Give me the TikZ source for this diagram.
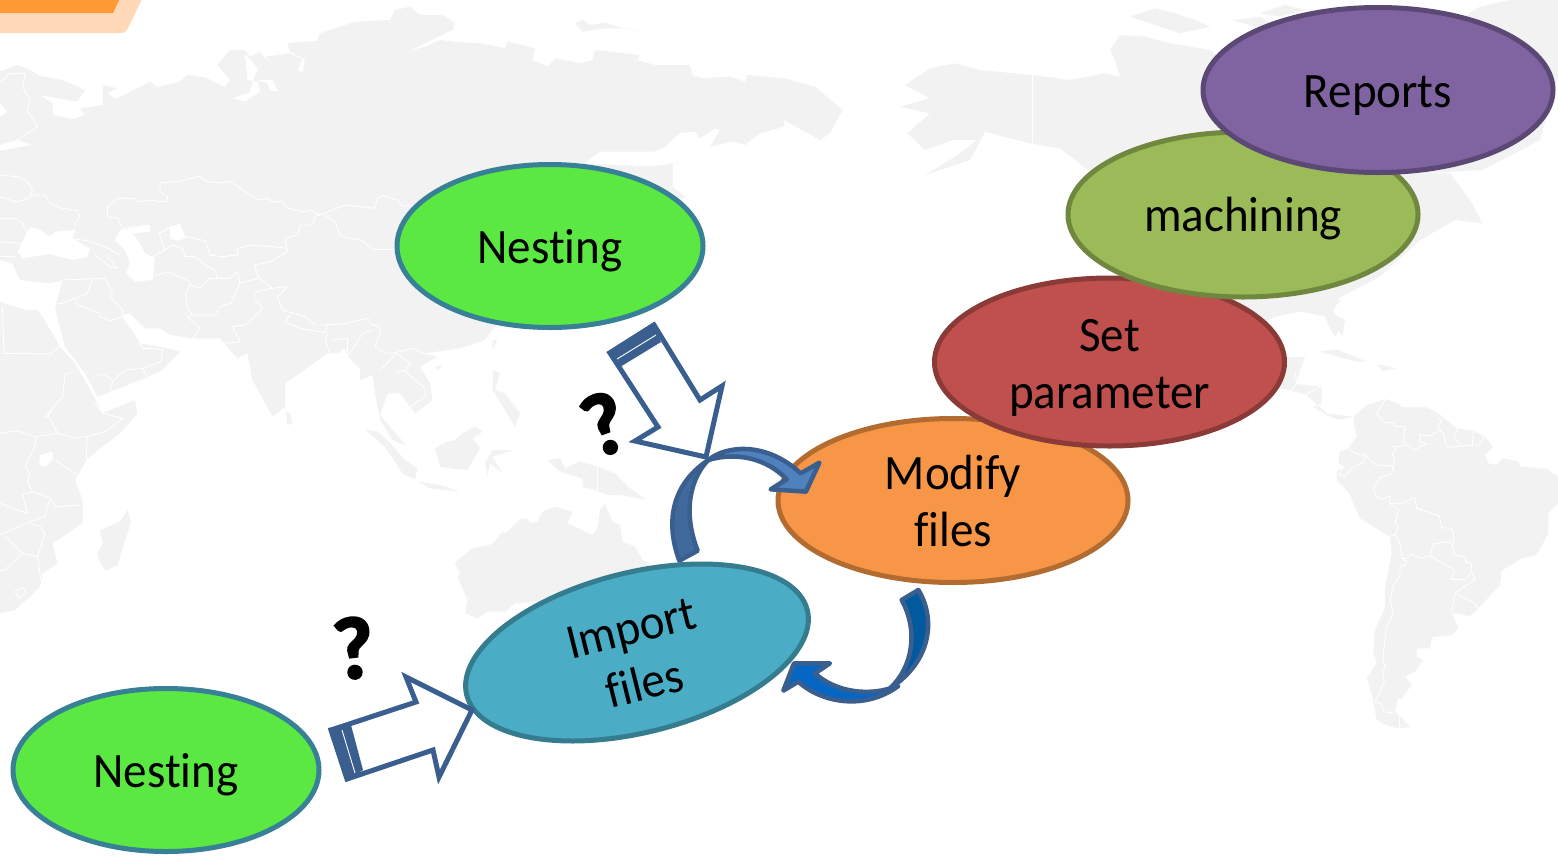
\documentclass[tikz,border=0pt]{standalone}
\usepackage{fontspec}
\setmainfont{Carlito}[Ligatures={NoCommon},FakeStretch=0.95]
\newfontfamily\qfont{Carlito}[BoldFeatures={FakeBold=2.5}]
\usetikzlibrary{shapes.geometric}
\definecolor{mapc}{HTML}{F2F2F2}
\definecolor{arrowline}{HTML}{3A5F8F}
\tikzset{
  land/.style={fill=mapc,draw=none},
  border/.style={draw=white,line width=0.9pt,line join=round},
  sea/.style={fill=white,draw=none},
  stepnode/.style={ellipse,draw=#1!72!black,fill=#1,line width=5pt,inner sep=0pt,outer sep=0pt,align=center,text=black,
     font=\fontsize{49.5}{57}\selectfont},
  oneline/.style={text height=43pt,text depth=9pt},
  blockarrow/.style={draw=arrowline,fill=white,line width=5pt,line join=miter,miter limit=6},
  bandfill/.style={fill=arrowline,draw=none},
  bandline/.style={draw=white,line width=0.9pt},
  ribbon/.style={draw=arrowline,line width=4.5pt,line join=round},
  qmark/.style={font=\qfont\fontsize{88}{88}\selectfont\bfseries,text=black,inner sep=0pt},
  zfive/.style={x=0.5pt,y=-0.33333pt},
  zthree/.style={x=0.33333pt,y=-0.33333pt}
}
\definecolor{cgreen}{HTML}{5BE843}
\definecolor{cblue}{HTML}{4BACC6}
\definecolor{corange}{HTML}{F79646}
\definecolor{cred}{HTML}{C0504D}
\definecolor{colive}{HTML}{9BBB59}
\definecolor{cpurple}{HTML}{8064A2}
\begin{document}
\begin{tikzpicture}[x=1pt,y=1pt]
\useasboundingbox (0,0) rectangle (1558,-855);
\fill[white] (0,0) rectangle (1558,-855);
% ---------- map: Eurasia, Africa etc.
\begin{scope}[zfive]
\fill[land] plot coordinates {(0,215) (35,195) (60,210) (80,228) (125,240) (170,270) (155,305) (80,285) (105,310) (105,345) (145,358) (170,345) (160,325) (205,315) (205,255) (235,265) (215,280) (232,296) (300,245) (315,262) (360,245) (375,225) (410,232) (450,262) (460,240) (435,195) (460,150) (490,150) (500,170) (520,155) (530,175) (555,195) (530,170) (580,160) (605,178) (595,210) (605,218) (610,178) (580,155) (575,130) (635,122) (640,100) (710,65) (780,60) (790,30) (820,20) (840,45) (885,45) (910,68) (905,90) (815,155) (850,140) (880,120) (910,125) (960,130) (1010,145) (1015,125) (1070,145) (1065,180) (1095,200) (1110,175) (1160,190) (1185,180) (1190,150) (1280,165) (1275,180) (1310,195) (1380,195) (1385,225) (1405,235) (1460,230) (1490,245) (1495,225) (1568,235) (1630,260) (1685,330) (1660,400) (1640,420) (1568,360) (1568,380) (1520,400) (1490,435) (1465,425) (1420,440) (1370,490) (1345,490) (1345,560) (1370,590) (1200,800) (990,980) (970,1020) (920,1045) (850,1060) (875,1070) (840,1100) (860,1150) (865,1200) (830,1240) (820,1220) (800,1180) (775,1180) (760,1245) (785,1290) (812,1335) (785,1320) (760,1260) (750,1180) (745,1125) (720,1140) (720,1105) (695,1070) (690,1045) (675,1060) (655,1060) (570,1150) (570,1220) (545,1250) (505,1140) (495,1060) (475,1075) (440,1015) (385,1015) (340,1005) (320,985) (290,985) (260,940) (245,945) (280,1030) (320,1040) (360,1055) (325,1110) (290,1135) (220,1175) (195,1190) (170,1120) (130,1040) (110,925) (125,840) (100,850) (40,840) (25,790) (0,780)} -- cycle;
% Okhotsk and Kamchatka bay
\fill[sea] plot coordinates {(1430,385) (1400,415) (1390,395) (1360,400) (1330,440) (1310,455) (1200,455) (1170,490) (1300,500) (1345,490) (1370,490) (1420,440) (1440,390)} -- cycle;
% Gulf of Ob etc.
\fill[sea] plot coordinates {(490,165) (495,240) (515,245) (520,275) (490,305) (465,295) (498,278) (505,250) (515,205) (502,180)} -- cycle;
\fill[sea] plot coordinates {(515,240) (545,240) (555,275) (540,270) (535,250)} -- cycle;
% Gulf of Finland, Bothnia
\fill[sea] plot coordinates {(0,435) (35,420) (62,435) (0,452)} -- cycle;
\fill[sea] plot coordinates {(0,310) (15,335) (0,350)} -- cycle;
% Black Sea, Caspian, Aral
\fill[sea] plot coordinates {(35,755) (60,680) (80,690) (100,710) (110,695) (150,690) (145,715) (180,745) (175,770) (145,780) (100,762) (65,770) (45,775)} -- cycle;
\fill[sea] plot coordinates {(240,690) (300,675) (300,695) (265,700) (280,730) (290,760) (310,775) (305,840) (270,845) (252,820) (260,790) (250,750) (230,720)} -- cycle;
\fill[sea] plot coordinates {(340,680) (360,672) (370,710) (355,722) (340,710)} -- cycle;
% Africa
\fill[land] plot coordinates {(0,905) (50,930) (75,930) (85,950) (120,1040) (150,1090) (190,1195) (205,1240) (270,1200) (275,1240) (240,1300) (175,1375) (150,1440) (165,1500) (165,1570) (105,1630) (115,1690) (85,1720) (80,1760) (60,1790) (30,1830) (0,1840)} -- cycle;
\fill[sea] plot coordinates {(80,1365) (105,1355) (105,1380) (90,1400) (78,1395)} -- cycle;
% islands
\fill[land] plot coordinates {(255,1530) (262,1565) (235,1695) (212,1712) (200,1690) (195,1660) (205,1630) (200,1590) (240,1565)} -- cycle;
\fill[land] plot coordinates {(572,1235) (580,1240) (585,1270) (575,1275)} -- cycle;
\fill[land] plot coordinates {(985,1020) (995,1020) (985,1050)} -- cycle;
\fill[land] plot coordinates {(870,1100) (885,1095) (875,1110)} -- cycle;
\fill[land] plot coordinates {(985,1110) (1000,1120) (990,1170) (1010,1180) (1040,1240) (1030,1280) (1010,1230) (985,1170)} -- cycle;
\fill[land] plot coordinates {(1150,70) (1165,58) (1180,75) (1210,68) (1230,78) (1285,95) (1250,85) (1210,85) (1165,95)} -- cycle;
\fill[land] plot coordinates {(730,1288) (755,1295) (780,1330) (810,1380) (835,1405) (830,1438) (805,1420) (770,1340)} -- cycle;
\fill[land] plot coordinates {(870,1345) (895,1325) (910,1320) (925,1300) (950,1280) (965,1295) (945,1315) (960,1345) (935,1410) (900,1405) (880,1400)} -- cycle;
\fill[land] plot coordinates {(835,1445) (880,1455) (920,1475) (860,1465)} -- cycle;
\fill[land] plot coordinates {(985,1350) (1025,1350) (985,1370) (1005,1420) (980,1390) (975,1430) (970,1390)} -- cycle;
\fill[land] plot coordinates {(1095,1380) (1120,1375) (1130,1405) (1160,1385) (1195,1400) (1230,1420) (1260,1465) (1290,1498) (1240,1485) (1215,1485) (1190,1470) (1165,1460) (1165,1435) (1120,1415) (1105,1395)} -- cycle;
\fill[land] plot coordinates {(915,1680) (945,1645) (985,1632) (1005,1595) (1010,1600) (1025,1580) (1040,1558) (1055,1555) (1060,1570) (1075,1565) (1085,1535) (1110,1520) (1145,1535) (1135,1570) (1185,1605) (1195,1585) (1200,1530) (1210,1512) (1225,1565) (1240,1575) (1245,1625) (1270,1640) (1285,1680) (1300,1690) (1300,1780) (1030,1810) (1010,1835) (975,1835) (955,1855) (930,1840) (935,1800) (915,1730) (920,1720) (910,1690)} -- cycle;
% borders Eurasia
\draw[border] plot coordinates {(0,245) (20,220) (50,220) (45,260) (60,300) (55,335) (75,380) (35,420)};
\draw[border] plot coordinates {(0,525) (35,530) (55,545) (65,570) (60,590)};
\draw[border] plot coordinates {(0,590) (30,605) (50,600) (65,585) (90,585) (100,610) (125,625) (155,632) (160,655) (150,665) (150,700)};
\draw[border] plot coordinates {(0,655) (30,655) (45,670) (55,700)};
\draw[border] plot coordinates {(0,725) (40,730)};
\draw[border] plot coordinates {(0,770) (30,770)};
\draw[border] plot coordinates {(135,715) (175,722) (215,745) (240,765)};
\draw[border] plot coordinates {(190,765) (220,800) (235,805) (215,770)};
\draw[border] plot coordinates {(215,650) (215,620) (235,595) (270,595) (275,605) (300,600) (320,605) (335,605) (335,590) (320,575) (320,548) (355,545) (385,535) (400,528) (412,545) (440,548) (460,545) (515,600) (535,595) (545,605) (565,605) (575,625) (610,635) (620,630) (640,645)};
\draw[border] plot coordinates {(640,645) (630,650) (625,675) (600,675) (595,705) (570,715) (575,755) (540,785) (510,795) (515,830) (545,865)};
\draw[border] plot coordinates {(640,645) (690,615) (750,625) (755,595) (765,587) (795,600) (805,618) (830,615)};
\draw[border] plot coordinates {(650,645) (672,670) (680,708) (725,722) (745,748) (795,748)};
\draw[border] plot coordinates {(215,650) (235,655) (245,685) (295,675)};
\draw[border] plot coordinates {(318,700) (330,750) (345,735) (365,745) (370,770) (390,770) (410,795) (430,810) (435,835)};
\draw[border] plot coordinates {(318,700) (345,680)};
\draw[border] plot coordinates {(340,715) (360,720) (372,710) (410,722) (420,765) (445,770) (475,765) (475,745) (500,735) (545,740) (575,745)};
\draw[border] plot coordinates {(300,775) (330,750)};
\draw[border] plot coordinates {(305,830) (335,815) (380,845) (380,855) (400,865) (420,835) (460,835) (475,815) (480,850) (515,835)};
\draw[border] plot coordinates {(545,865) (510,875) (510,900) (525,920) (520,935) (490,975) (465,980) (480,1025) (450,1030)};
\draw[border] plot coordinates {(380,855) (372,880) (375,925) (385,945) (375,950) (400,985) (385,1015)};
\draw[border] plot coordinates {(385,945) (430,945) (440,920) (462,910) (470,880) (480,850)};
\draw[border] plot coordinates {(545,865) (575,860) (555,890) (565,930) (610,950) (630,975) (655,975) (690,970) (735,955) (745,975) (760,980) (760,1000) (750,1040) (770,1060) (790,1058) (825,1045) (855,1065)};
\draw[border] plot coordinates {(580,945) (570,965) (600,985) (650,998) (655,975)};
\draw[border] plot coordinates {(655,1000) (650,1020) (660,1060)};
\draw[border] plot coordinates {(665,1020) (695,1015) (695,1070) (725,1000) (745,990)};
\draw[border] plot coordinates {(790,1058) (820,1090) (810,1115) (850,1165) (850,1190) (820,1220)};
\draw[border] plot coordinates {(760,1110) (780,1080) (790,1060)};
\draw[border] plot coordinates {(790,1120) (810,1110)};
\draw[border] plot coordinates {(125,840) (210,835) (215,850) (225,880) (220,890) (245,930) (245,950)};
\draw[border] plot coordinates {(185,840) (175,880) (150,895) (125,910) (115,910)};
\draw[border] plot coordinates {(150,895) (155,915) (200,940) (200,950) (220,962) (245,950)};
\draw[border] plot coordinates {(245,950) (270,1000) (285,1045) (325,1048) (322,1085) (285,1105) (295,1135)};
\draw[border] plot coordinates {(285,1105) (250,1110) (225,1145) (220,1175)};
\draw[border] plot coordinates {(5,920) (8,1060) (100,1062) (120,1040)};
\draw[border] plot coordinates {(145,1115) (130,1125) (125,1190) (105,1225) (95,1250)};
\draw[border] plot coordinates {(190,1125) (210,1125) (225,1140)};
\draw[border] plot coordinates {(0,1300) (35,1292) (70,1310) (115,1300) (150,1315) (180,1308) (215,1292) (245,1255) (205,1240) (190,1210)};
\draw[border] plot coordinates {(115,1300) (100,1255) (90,1250) (105,1225)};
\draw[border] plot coordinates {(70,1310) (72,1330) (60,1370) (50,1400) (60,1420) (55,1445) (65,1475) (100,1493) (90,1550) (60,1565) (0,1605)};
\draw[border] plot coordinates {(105,1375) (155,1425)};
\draw[border] plot coordinates {(175,1308) (172,1370) (178,1385)};
\draw[border] plot coordinates {(100,1493) (110,1520) (160,1515)};
\draw[border] plot coordinates {(0,1510) (55,1540) (45,1485) (65,1475)};
\draw[border] plot coordinates {(10,1610) (45,1660) (75,1670) (90,1600) (80,1580) (60,1570)};
\draw[border] plot coordinates {(45,1660) (10,1710) (0,1712)};
\draw[border] plot coordinates {(75,1670) (82,1740)};
\draw[border] plot coordinates {(30,1775) (45,1762) (52,1780) (38,1795) (30,1775)};
\draw[border] plot coordinates {(1195,1400) (1195,1470)};
\end{scope}
% ---------- map: North America
\begin{scope}[zfive,shift={(1560,0)}]
\fill[land] plot coordinates {(700,50) (750,25) (790,40) (830,60) (860,80) (800,100) (760,80)} -- cycle;
\fill[land] plot coordinates {(905,60) (960,50) (1000,90) (950,80)} -- cycle;
\fill[land] plot coordinates {(960,40) (1010,15) (1050,30) (1000,50)} -- cycle;
\fill[land] plot coordinates {(1400,20) (1460,0) (1568,0) (1568,170) (1520,420) (1405,510) (1280,520) (1100,300)} -- cycle;
\fill[land] plot coordinates {(250,255) (300,205) (350,190) (400,210) (505,225) (580,240) (650,220) (680,230) (670,180) (660,150) (680,105) (730,110) (780,130) (860,150) (1000,300) (1280,520) (1340,520) (1380,600) (1405,670) (1350,660) (1280,720) (1200,830) (1110,900) (1100,935) (1130,960) (1125,1010) (1100,950) (1040,935) (990,950) (800,1100) (700,900) (620,515) (560,445) (500,430) (410,395) (380,480) (290,525) (350,470) (395,420) (345,420) (290,450) (255,400) (300,340) (240,320) (300,295)} -- cycle;
\draw[border] plot coordinates {(505,225) (505,430)};
\end{scope}
% ---------- map: Central & South America
\begin{scope}[zthree,shift={(3600,900)}]
\fill[land] plot coordinates {(190,45) (300,35) (370,40) (385,75) (405,110) (418,90) (400,30) (420,0) (200,-60)} -- cycle;
\fill[land] plot coordinates {(360,155) (410,148) (500,185) (470,185)} -- cycle;
\fill[land] plot coordinates {(530,192) (590,205) (550,212)} -- cycle;
\fill[land] plot coordinates {(240,170) (315,172) (300,210) (290,250) (310,255) (365,260) (365,310) (340,320) (380,345) (415,360) (460,350) (380,340) (320,285) (270,270) (220,260)} -- cycle;
\fill[land] plot coordinates {(460,350) (500,315) (555,298) (580,305) (610,322) (680,322) (715,340) (730,352) (770,385) (820,392) (855,410) (878,440) (855,465) (865,490) (890,495) (910,475) (955,485) (960,500) (1040,507) (1074,530) (1074,610) (1045,640) (1045,700) (1010,765) (965,775) (905,812) (900,855) (835,925) (810,948) (755,938) (775,985) (755,1005) (695,1012) (690,1045) (650,1045) (650,1070) (670,1080) (645,1115) (615,1130) (635,1155) (605,1195) (595,1195) (585,1235) (630,1280) (600,1285) (570,1280) (530,1260) (520,1200) (510,1165) (500,1135) (530,1090) (520,1055) (525,990) (555,925) (555,865) (575,760) (570,710) (480,655) (445,575) (410,540) (410,515) (435,500) (415,490) (420,455) (445,445) (470,410) (460,360)} -- cycle;
\draw[border] plot coordinates {(555,300) (530,340) (550,365) (580,370) (585,380) (615,380) (610,425) (640,450) (680,432) (660,425) (658,405) (685,408) (722,392) (712,378) (725,365) (717,352)};
\draw[border] plot coordinates {(722,392) (730,400) (735,430) (745,442) (815,435) (835,435) (855,410)};
\draw[border] plot coordinates {(775,385) (760,405) (780,435)};
\draw[border] plot coordinates {(820,392) (817,435)};
\draw[border] plot coordinates {(445,445) (465,460) (495,465) (528,495) (575,497) (580,515) (583,475) (575,460) (590,450) (580,440) (615,437)};
\draw[border] plot coordinates {(495,465) (490,485) (455,505) (435,528) (420,525) (430,500)};
\draw[border] plot coordinates {(580,518) (540,532) (520,565) (530,590) (550,598) (568,587) (570,610) (600,612) (645,593) (650,625) (718,648) (725,683) (755,685) (763,710) (757,735) (762,765) (795,770) (797,785) (815,792) (815,815) (825,838) (765,880) (755,938)};
\draw[border] plot coordinates {(570,610) (595,630) (585,670) (595,680) (585,705) (570,708)};
\draw[border] plot coordinates {(585,705) (600,730) (607,775) (620,775) (635,762) (662,775) (690,767) (700,732) (745,725) (757,735)};
\draw[border] plot coordinates {(690,767) (763,810) (755,838) (797,840) (815,815)};
\draw[border] plot coordinates {(607,775) (620,785) (615,795) (600,800) (600,830) (582,850) (570,900) (580,940) (560,980) (548,1075) (555,1105) (548,1110) (553,1145) (525,1205) (545,1212) (550,1235) (590,1240)};
\draw[border] plot coordinates {(765,880) (825,910) (835,925)};
\draw[border] plot coordinates {(598,1250) (598,1285)};
\draw[border] plot coordinates {(285,215) (290,250) (275,270)};
\draw[border] plot coordinates {(315,285) (365,258)};
\end{scope}
% ---------- top-left tab
\path[fill={rgb,255:red,255;green,216;blue,184}] (0,0) -- (141.5,0) -- (128,-28) .. controls (126,-32) and (124,-33) .. (119,-33) -- (0,-33) -- cycle;
\path[fill={rgb,255:red,255;green,153;blue,51}] (0,0) -- (119,0) -- (113,-13) -- (0,-13) -- cycle;
% ---------- step ellipses
\node[stepnode=corange,minimum width=350pt,minimum height=164pt] (modify) at (953,-500.5) {Modify\\files};
\node[stepnode=cred,minimum width=350pt,minimum height=168pt,text height=101pt,text depth=9pt] (setp) at (1109.5,-362) {Set\\parameter};
\node[stepnode=colive,oneline,minimum width=350pt,minimum height=165pt] (mach) at (1243,-214.5) {machining};
\node[stepnode=cpurple,oneline,minimum width=350pt,minimum height=165pt] (reports) at (1378,-90) {Reports};
\node[stepnode=cgreen,oneline,draw={rgb,255:red,55;green,128;blue,150},minimum width=306pt,minimum height=163pt] (nestA) at (550,-246) {Nesting};
\node[stepnode=cgreen,oneline,draw={rgb,255:red,55;green,128;blue,150},minimum width=306pt,minimum height=163pt] (nestB) at (166,-770) {Nesting};
% ---------- upper curved arrow (Import -> Modify)
\begin{scope}[zthree,shift={(1680,930)}]
\path[ribbon,fill={rgb,255:red,79;green,129;blue,189}] (445,450) .. controls (500,405) and (620,395) .. (722,490) -- (778,458) -- (738,545) -- (632,538) -- (680,508) .. controls (620,445) and (530,425) .. (445,450) -- cycle;
\path[ribbon,fill={rgb,255:red,65;green,106;blue,156}] (358,752) .. controls (320,650) and (325,530) .. (445,450) .. controls (395,500) and (365,600) .. (413,722) -- cycle;
\end{scope}
\node[stepnode=cblue,rotate=14,minimum width=351pt,minimum height=160pt,text height=96pt,text depth=0pt] (import) at (637,-652.5) {Import\\files};
% ---------- lower curved arrow (Modify -> Import)
\begin{scope}[zthree,shift={(2310,1740)}]
\path[ribbon,fill={rgb,255:red,1;green,90;blue,158}] (445,30) .. controls (495,110) and (490,240) .. (360,325) .. controls (430,260) and (445,150) .. (395,60) -- cycle;
\path[ribbon,fill={rgb,255:red,5;green,102;blue,196}] (360,325) .. controls (300,345) and (200,340) .. (135,280) -- (180,250) -- (72,250) -- (40,332) -- (85,305) .. controls (150,365) and (280,395) .. (385,318) -- cycle;
\end{scope}
% ---------- straight block arrows
\path[blockarrow] (610,-353) -- (654,-325) -- (700,-400) -- (722,-386) -- (706,-457) -- (635,-441) -- (658,-427) -- cycle;
\path[bandfill] (606.5,-352) -- (654,-322) -- (661,-342) -- (620,-367) -- cycle;
\draw[bandline] (617,-359) -- (656,-335);
\path[blockarrow] (331,-730) -- (416,-702) -- (406,-677) -- (472,-710) -- (439,-777) -- (433,-750) -- (347,-779) -- cycle;
\path[bandfill] (328,-728) -- (351,-725) -- (363,-770) -- (346,-781) -- cycle;
\draw[bandline] (342,-730) -- (355,-773);
% ---------- question marks
\node[qmark,rotate=20] (qa) at (604,-424) {?};
\node[qmark,rotate=7] (qb) at (354,-648) {?};
\end{tikzpicture}
\end{document}
